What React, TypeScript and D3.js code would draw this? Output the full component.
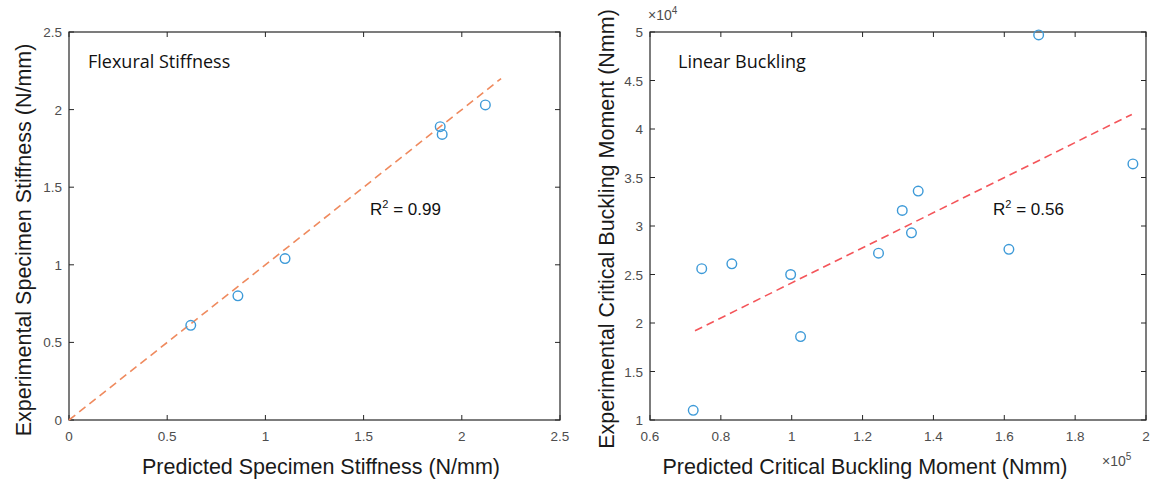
import React from "react";
import * as d3 from "d3";

// flexural stiffness panel
const flexPredicted = [0.62, 0.86, 1.1, 1.89, 1.9, 2.12];
const flexMeasured = [0.61, 0.8, 1.04, 1.89, 1.84, 2.03];
const flexFit = [[0, 0], [2.2, 2.2]];
const flexTicks = [0, 0.5, 1, 1.5, 2, 2.5];

// linear buckling panel (x in 1e5 Nmm, y in 1e4 Nmm)
const buckPredicted = [0.722, 0.746, 0.831, 0.997, 1.025, 1.245, 1.312, 1.338, 1.357, 1.613, 1.697, 1.963];
const buckMeasured = [1.1, 2.56, 2.61, 2.5, 1.86, 2.72, 3.16, 2.93, 3.36, 2.76, 4.97, 3.64];
const buckFit = [[0.727, 1.92], [1.96, 4.15]];
const buckXTicks = [0.6, 0.8, 1, 1.2, 1.4, 1.6, 1.8, 2];
const buckYTicks = [1, 1.5, 2, 2.5, 3, 3.5, 4, 4.5, 5];

const tickFont = "'Liberation Sans', Arial, sans-serif";
const tickColor = "#4d4d4d";
const pointColor = "#3d9ad8";

type PanelProps = {
  left: number; right: number; top: number; bottom: number;
  xDomain: [number, number]; yDomain: [number, number];
  xTicks: number[]; yTicks: number[];
  xs: number[]; ys: number[]; fit: number[][]; fitColor: string;
  label: string; labelX: number; r2: string; r2x: number;
  xTitle: string; xTitleX: number; yTitle: string; yTitleX: number; yTitleY: number;
  xExp?: string; yExp?: string;
};

function Panel(p: PanelProps) {
  const x = d3.scaleLinear().domain(p.xDomain).range([p.left, p.right]);
  const y = d3.scaleLinear().domain(p.yDomain).range([p.bottom, p.top]);
  const line = d3.line<number[]>().x(d => x(d[0])).y(d => y(d[1]));
  const tl = 5;
  return (
    <g>
      <rect x={p.left} y={p.top} width={p.right - p.left} height={p.bottom - p.top} fill="none" stroke="#262626" strokeWidth={1.2} />
      {p.xTicks.map(t => (
        <g key={"x" + t}>
          <line x1={x(t)} x2={x(t)} y1={p.bottom} y2={p.bottom - tl} stroke="#262626" />
          <line x1={x(t)} x2={x(t)} y1={p.top} y2={p.top + tl} stroke="#262626" />
          <text x={x(t)} y={p.bottom + 21} textAnchor="middle" fontFamily={tickFont} fontSize={13.5} fill={tickColor}>{t}</text>
        </g>
      ))}
      {p.yTicks.map(t => (
        <g key={"y" + t}>
          <line x1={p.left} x2={p.left + tl} y1={y(t)} y2={y(t)} stroke="#262626" />
          <line x1={p.right} x2={p.right - tl} y1={y(t)} y2={y(t)} stroke="#262626" />
          <text x={p.left - 7} y={y(t) + 5} textAnchor="end" fontFamily={tickFont} fontSize={13.5} fill={tickColor}>{t}</text>
        </g>
      ))}
      <path d={line(p.fit) || ""} fill="none" stroke={p.fitColor} strokeWidth={1.6} strokeDasharray="8,5" />
      {p.xs.map((v, i) => (
        <circle key={i} cx={x(v)} cy={y(p.ys[i])} r={4.8} fill="none" stroke={pointColor} strokeWidth={1.4} />
      ))}
      <text x={p.labelX} y={p.top + 36} fontFamily="'Open Sans', Calibri, sans-serif" fontSize={18} fill="#111">{p.label}</text>
      <text x={p.r2x} y={p.top + 183} fontFamily={tickFont} fontSize={17} fill="#111">
        R<tspan dy={-7} fontSize={11}>2</tspan><tspan dy={7}> = {p.r2}</tspan>
      </text>
      <text x={p.xTitleX} y={474} textAnchor="middle" fontFamily={tickFont} fontSize={21.5} fill="#1a1a1a">{p.xTitle}</text>
      <text transform={`translate(${p.yTitleX},${p.yTitleY}) rotate(-90)`} textAnchor="middle" fontFamily={tickFont} fontSize={21.5} fill="#1a1a1a">{p.yTitle}</text>
      {p.yExp && (
        <text x={p.left - 2} y={p.top - 12} fontFamily={tickFont} fontSize={14} fill={tickColor}>
          ×10<tspan dy={-6} fontSize={10}>{p.yExp}</tspan>
        </text>
      )}
      {p.xExp && (
        <text x={p.right - 44} y={p.bottom + 46} fontFamily={tickFont} fontSize={14} fill={tickColor}>
          ×10<tspan dy={-6} fontSize={10}>{p.xExp}</tspan>
        </text>
      )}
    </g>
  );
}

export default function App() {
  return (
    <svg width={1152} height={479} style={{ position: "absolute", left: 0, top: 0, background: "#fff" }}>
      <rect width={1152} height={479} fill="#fff" />
      <Panel
        left={69} right={560} top={32} bottom={420}
        xDomain={[0, 2.5]} yDomain={[0, 2.5]}
        xTicks={flexTicks} yTicks={flexTicks}
        xs={flexPredicted} ys={flexMeasured} fit={flexFit} fitColor="#ef8a5e"
        label="Flexural Stiffness" labelX={88} r2="0.99" r2x={370}
        xTitle="Predicted Specimen Stiffness (N/mm)" xTitleX={321}
        yTitle="Experimental Specimen Stiffness (N/mm)" yTitleX={31} yTitleY={240}
      />
      <Panel
        left={650} right={1146} top={32} bottom={420}
        xDomain={[0.6, 2]} yDomain={[1, 5]}
        xTicks={buckXTicks} yTicks={buckYTicks}
        xs={buckPredicted} ys={buckMeasured} fit={buckFit} fitColor="#f4555a"
        label="Linear Buckling" labelX={678} r2="0.56" r2x={993}
        xTitle="Predicted Critical Buckling Moment (Nmm)" xTitleX={865}
        yTitle="Experimental Critical Buckling Moment (Nmm)" yTitleX={614} yTitleY={229}
        xExp="5" yExp="4"
      />
    </svg>
  );
}
